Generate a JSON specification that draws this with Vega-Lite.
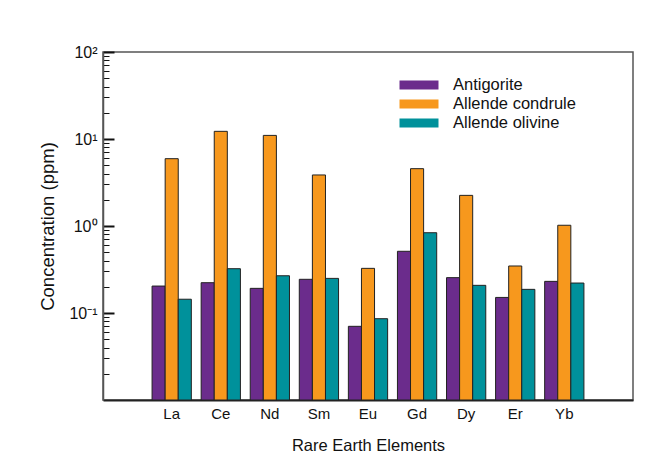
{
  "$schema": "https://vega.github.io/schema/vega-lite/v6.json",
  "width": 530,
  "height": 348,
  "autosize": "none",
  "padding": {"left": 103, "top": 52, "right": 22, "bottom": 74},
  "background": "white",
  "data": {
    "values": [
      {"element": "La", "sample": "Antigorite", "ppm": 0.204},
      {"element": "La", "sample": "Allende condrule", "ppm": 5.94},
      {"element": "La", "sample": "Allende olivine", "ppm": 0.144},
      {"element": "Ce", "sample": "Antigorite", "ppm": 0.223},
      {"element": "Ce", "sample": "Allende condrule", "ppm": 12.25},
      {"element": "Ce", "sample": "Allende olivine", "ppm": 0.323},
      {"element": "Nd", "sample": "Antigorite", "ppm": 0.192},
      {"element": "Nd", "sample": "Allende condrule", "ppm": 11.0},
      {"element": "Nd", "sample": "Allende olivine", "ppm": 0.268},
      {"element": "Sm", "sample": "Antigorite", "ppm": 0.244},
      {"element": "Sm", "sample": "Allende condrule", "ppm": 3.86},
      {"element": "Sm", "sample": "Allende olivine", "ppm": 0.25},
      {"element": "Eu", "sample": "Antigorite", "ppm": 0.0703},
      {"element": "Eu", "sample": "Allende condrule", "ppm": 0.326},
      {"element": "Eu", "sample": "Allende olivine", "ppm": 0.086},
      {"element": "Gd", "sample": "Antigorite", "ppm": 0.512},
      {"element": "Gd", "sample": "Allende condrule", "ppm": 4.56},
      {"element": "Gd", "sample": "Allende olivine", "ppm": 0.837},
      {"element": "Dy", "sample": "Antigorite", "ppm": 0.255},
      {"element": "Dy", "sample": "Allende condrule", "ppm": 2.25},
      {"element": "Dy", "sample": "Allende olivine", "ppm": 0.208},
      {"element": "Er", "sample": "Antigorite", "ppm": 0.151},
      {"element": "Er", "sample": "Allende condrule", "ppm": 0.347},
      {"element": "Er", "sample": "Allende olivine", "ppm": 0.187},
      {"element": "Yb", "sample": "Antigorite", "ppm": 0.231},
      {"element": "Yb", "sample": "Allende condrule", "ppm": 1.02},
      {"element": "Yb", "sample": "Allende olivine", "ppm": 0.221}
    ]
  },
  "mark": {"type": "bar", "stroke": "#222222", "strokeWidth": 1, "opacity": 1},
  "encoding": {
    "x": {
      "field": "element",
      "type": "nominal",
      "sort": null,
      "scale": {"paddingInner": 0.2, "paddingOuter": 1.0},
      "axis": {
        "title": "Rare Earth Elements",
        "labelAngle": 0,
        "ticks": false,
        "labelPadding": 6,
        "labelFontSize": 15,
        "titleFontSize": 16.5,
        "titlePadding": 16,
        "titleFontWeight": "normal",
        "domainColor": "#222222",
        "domainWidth": 2
      }
    },
    "xOffset": {
      "field": "sample",
      "type": "nominal",
      "sort": ["Antigorite", "Allende condrule", "Allende olivine"],
      "scale": {"paddingInner": 0, "paddingOuter": 0}
    },
    "y": {
      "field": "ppm",
      "type": "quantitative",
      "scale": {"type": "log", "domain": [0.01, 100], "nice": false},
      "axis": {
        "title": "Concentration (ppm)",
        "titleFontSize": 18.5,
        "titleFontWeight": "normal",
        "titlePadding": 11,
        "grid": false,
        "values": [0.02, 0.03, 0.04, 0.05, 0.06, 0.07, 0.08, 0.09, 0.1, 0.2, 0.3, 0.4, 0.5, 0.6, 0.7, 0.8, 0.9, 1, 2, 3, 4, 5, 6, 7, 8, 9, 10, 20, 30, 40, 50, 60, 70, 80, 90, 100],
        "labelExpr": "datum.value == 0.1 ? '10⁻¹' : datum.value == 1 ? '10⁰' : datum.value == 10 ? '10¹' : datum.value == 100 ? '10²' : ''",
        "labelFontSize": 16,
        "labelPadding": 17,
        "tickSize": {"condition": {"test": "datum.value == 0.1 || datum.value == 1 || datum.value == 10 || datum.value == 100", "value": -11}, "value": -6},
        "tickWidth": {"condition": {"test": "datum.value == 0.1 || datum.value == 1 || datum.value == 10 || datum.value == 100", "value": 2}, "value": 1},
        "tickColor": "#111111",
        "domainColor": "#555555",
        "domainWidth": 1.5
      }
    },
    "y2": {"datum": 0.01},
    "color": {
      "field": "sample",
      "type": "nominal",
      "sort": ["Antigorite", "Allende condrule", "Allende olivine"],
      "scale": {"range": ["#6B2C8C", "#F7981D", "#00919B"]},
      "legend": {
        "title": null,
        "orient": "none",
        "legendX": 306,
        "legendY": 23,
        "symbolType": "M-2,-0.46L2,-0.46L2,0.46L-2,0.46Z",
        "symbolSize": 380,
        "symbolStrokeWidth": 0,
        "labelFontSize": 16.5,
        "labelColor": "#111111",
        "labelOffset": 24,
        "rowPadding": 0
      }
    }
  },
  "config": {
    "font": "Liberation Sans",
    "view": {"stroke": "#555555", "strokeWidth": 1.5},
    "axis": {"labelColor": "#111111", "titleColor": "#111111", "labelFont": "Liberation Sans", "titleFont": "Liberation Sans"}
  }
}
